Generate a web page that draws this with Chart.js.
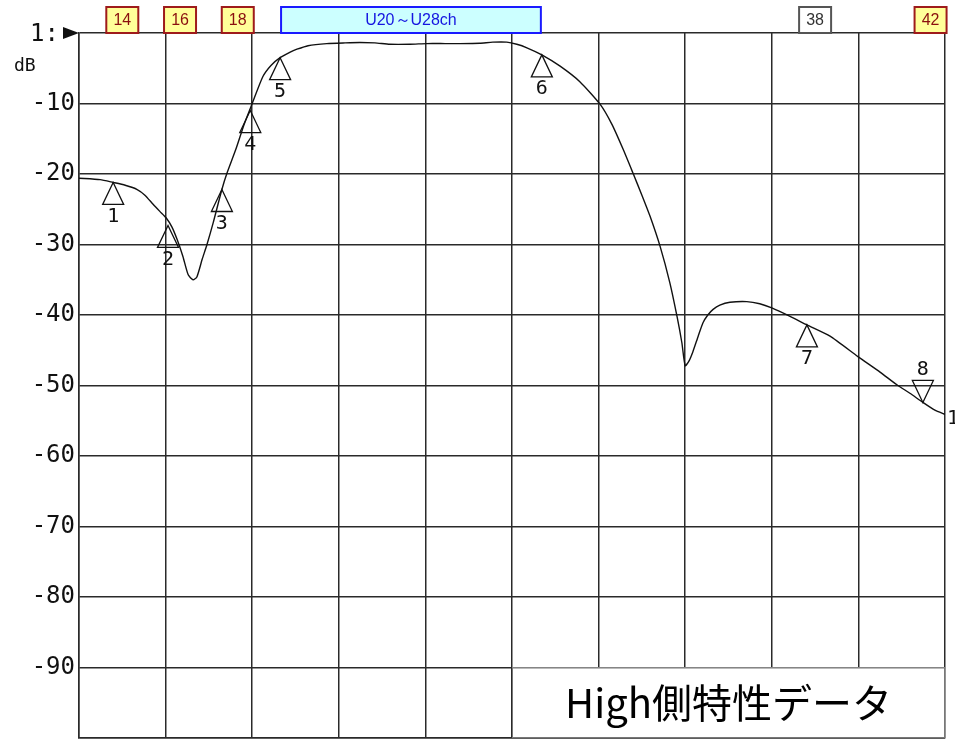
<!DOCTYPE html>
<html><head><meta charset="utf-8">
<script src="https://cdn.jsdelivr.net/npm/chart.js@4"></script>
<style>html,body{margin:0;padding:0;background:#fff}#wrap{width:955px;height:739px;position:relative}</style>
</head><body><div id="wrap"><canvas id="c" width="955" height="739"></canvas></div>
<script>
// ---- data ----
const freqMHz = [470.0,474.4,477.1,479.6,482.1,483.7,485.4,486.8,488.1,489.3,490.4,491.6,492.7,493.7,494.5,495.6,496.6,497.9,499.7,500.8,502.6,504.3,506.0,508.2,509.9,511.8,513.9,515.3,517.6,521.5,525.3,528.4,531.5,534.6,538.8,542.3,546.1,549.2,553.3,556.0,558.9,561.0,563.1,566.2,570.0,574.1,578.3,580.8,583.1,585.1,587.0,588.7,590.8,592.8,594.3,595.3,596.0,596.8,597.6,598.7,599.7,600.7,601.8,603.2,605.3,608.8,611.5,614.0,617.8,621.3,626.1,631.9,636.5,640.0,642.7,645.4,647.9,650.0];
const gainDB  = [-20.6,-20.8,-21.2,-21.6,-22.2,-23.0,-24.3,-25.3,-26.2,-27.5,-29.3,-31.7,-34.3,-35.0,-34.6,-32.1,-30.0,-26.9,-22.2,-19.8,-16.5,-13.0,-10.0,-6.2,-4.6,-3.5,-2.7,-2.3,-1.8,-1.5,-1.4,-1.35,-1.4,-1.6,-1.6,-1.5,-1.5,-1.5,-1.45,-1.3,-1.3,-1.6,-2.1,-3.1,-4.7,-6.9,-10.1,-13.0,-16.5,-19.8,-23.0,-26.0,-30.3,-35.4,-40.2,-43.9,-47.2,-46.5,-45.2,-43.0,-41.1,-40.0,-39.2,-38.6,-38.2,-38.1,-38.4,-39.0,-40.2,-41.4,-43.0,-45.9,-48.1,-49.9,-51.1,-52.4,-53.5,-54.1];
const markerIds   = ['1','2','3','4','5','6','7','8'];
const markerFreq  = [477.1,488.5,499.7,505.6,511.8,566.2,621.3,645.4];
const markerDB    = [-21.2,-27.3,-22.2,-11.0,-3.5,-3.1,-41.4,-52.4];
const markerDown  = [false,false,false,false,false,false,false,true];
const xTicks = [470,488,506,524,542,560,578,596,614,632,650];
const yTicks = [0,-10,-20,-30,-40,-50,-60,-70,-80,-90,-100];
const yTickLabels = ['','-10','-20','-30','-40','-50','-60','-70','-80','-90',''];
const chLabels    = ['14','16','18','38','42'];
const chCenterMHz = [479,491,503,623,647];
const chTarget    = [true,true,true,false,true];
const bandLabel = 'U20～U28ch';
const bandStartMHz = 512, bandEndMHz = 566;
const refLabel = '1:';
const unitLabel = 'dB';
const traceLabel = '1';
const noteText = 'High側特性データ';

// ---- drawing ----
const MONO = '"DejaVu Sans Mono", monospace';
const decor = {
  id: 'decor',
  afterDatasetsDraw(chart) {
    const {ctx, scales:{x, y}} = chart;
    ctx.save();
    ctx.strokeStyle = '#111'; ctx.fillStyle = '#111'; ctx.lineWidth = 1.3;
    ctx.font = '20px ' + MONO; ctx.textAlign = 'center';
    markerIds.forEach((id, i) => {
      const px = x.getPixelForValue(markerFreq[i]);
      const py = y.getPixelForValue(markerDB[i]);
      const d = markerDown[i] ? -1 : 1;
      const h = 22, w = 10.5;
      ctx.beginPath();
      ctx.moveTo(px, py); ctx.lineTo(px - w, py + d*h); ctx.lineTo(px + w, py + d*h); ctx.closePath();
      ctx.stroke();
      if (d > 0) { ctx.textBaseline = 'top'; ctx.fillText(id, px, py + h + 2); }
      else { ctx.textBaseline = 'bottom'; ctx.fillText(id, px, py - h - 1); }
    });
    ctx.restore();
  },
  afterDraw(chart) {
    const {ctx, chartArea:a, scales:{x, y}} = chart;
    ctx.save();
    // note box
    const nx0 = x.getPixelForValue(560), nx1 = x.getPixelForValue(650);
    const ny0 = y.getPixelForValue(-90), ny1 = y.getPixelForValue(-100);
    ctx.fillStyle = '#fff';
    ctx.fillRect(nx0, ny0, nx1 - nx0, ny1 - ny0);
    ctx.strokeStyle = '#777'; ctx.lineWidth = 1;
    ctx.strokeRect(nx0 + 0.5, ny0 + 0.5, nx1 - nx0 - 1, ny1 - ny0 - 1);
    ctx.fillStyle = '#000';
    ctx.font = '40px "Noto Sans CJK JP", sans-serif';
    ctx.textAlign = 'center'; ctx.textBaseline = 'middle';
    ctx.fillText(noteText, (nx0 + nx1) / 2, (ny0 + ny1) / 2);

    // channel boxes
    const top = 7, bot = a.top;
    ctx.lineWidth = 2;
    ctx.font = '16px "Liberation Sans", Arial, sans-serif';
    chLabels.forEach((lab, i) => {
      const cx = x.getPixelForValue(chCenterMHz[i]);
      const w = 32;
      ctx.fillStyle = chTarget[i] ? '#ffff99' : '#ffffff';
      ctx.strokeStyle = chTarget[i] ? '#9e1b1b' : '#555';
      ctx.fillRect(cx - w/2, top, w, bot - top);
      ctx.strokeRect(cx - w/2, top, w, bot - top);
      ctx.fillStyle = chTarget[i] ? '#8a0f0f' : '#333';
      ctx.fillText(lab, cx, (top + bot) / 2 + 1);
    });
    const bx0 = x.getPixelForValue(bandStartMHz), bx1 = x.getPixelForValue(bandEndMHz);
    ctx.fillStyle = '#ccffff'; ctx.strokeStyle = '#1a1aff';
    ctx.fillRect(bx0, top, bx1 - bx0, bot - top);
    ctx.strokeRect(bx0, top, bx1 - bx0, bot - top);
    ctx.fillStyle = '#1515e0';
    ctx.font = '16px "Liberation Sans", Arial, sans-serif';
    ctx.fillText(bandLabel, (bx0 + bx1) / 2, (top + bot) / 2 + 1);

    // reference arrow and labels
    const ry = y.getPixelForValue(0);
    ctx.fillStyle = '#111';
    ctx.beginPath();
    ctx.moveTo(a.left, ry); ctx.lineTo(a.left - 16, ry - 6); ctx.lineTo(a.left - 16, ry + 6); ctx.closePath();
    ctx.fill();
    ctx.textAlign = 'left'; ctx.textBaseline = 'middle';
    ctx.font = '24px ' + MONO;
    ctx.fillText(refLabel, 30, ry + 2);
    ctx.font = '18px ' + MONO;
    ctx.fillText(unitLabel, 14, ry + 33);
    // trace end label
    const lx = x.getPixelForValue(freqMHz[freqMHz.length - 1]);
    const ly = y.getPixelForValue(gainDB[gainDB.length - 1]);
    ctx.font = '20px ' + MONO;
    ctx.fillText(traceLabel, lx + 2, ly + 4);
    ctx.restore();
  }
};

new Chart(document.getElementById('c'), {
  type: 'line',
  data: {
    datasets: [{
      data: freqMHz.map((f, i) => ({x: f, y: gainDB[i]})),
      borderColor: '#111', borderWidth: 1.4, pointRadius: 0, tension: 0.2, fill: false
    }]
  },
  options: {
    responsive: false, animation: false,
    layout: {padding: {top: 33, right: 10, bottom: 1, left: 0}},
    plugins: {legend: {display: false}, tooltip: {enabled: false}},
    scales: {
      x: {
        type: 'linear', min: 470, max: 650,
        afterBuildTicks: s => { s.ticks = xTicks.map(v => ({value: v})); },
        afterFit: s => { s.height = 0; s.paddingLeft = 0; s.paddingRight = 0; },
        ticks: {display: false},
        grid: {color: '#2a2a2a', lineWidth: 1.5, drawTicks: false},
        border: {display: true, color: '#2a2a2a', width: 1.5}
      },
      y: {
        type: 'linear', min: -100, max: 0,
        afterBuildTicks: s => { s.ticks = yTicks.map(v => ({value: v})); },
        afterFit: s => { s.width = 79; s.paddingTop = 0; s.paddingBottom = 0; },
        ticks: {
          padding: 4, color: '#111',
          font: {family: 'DejaVu Sans Mono', size: 24},
          callback: (v) => { const i = yTicks.indexOf(v); return i >= 0 ? yTickLabels[i] : ''; }
        },
        grid: {color: '#2a2a2a', lineWidth: 1.5, drawTicks: false},
        border: {display: true, color: '#2a2a2a', width: 1.5}
      }
    }
  },
  plugins: [decor]
});
</script>
</body></html>
